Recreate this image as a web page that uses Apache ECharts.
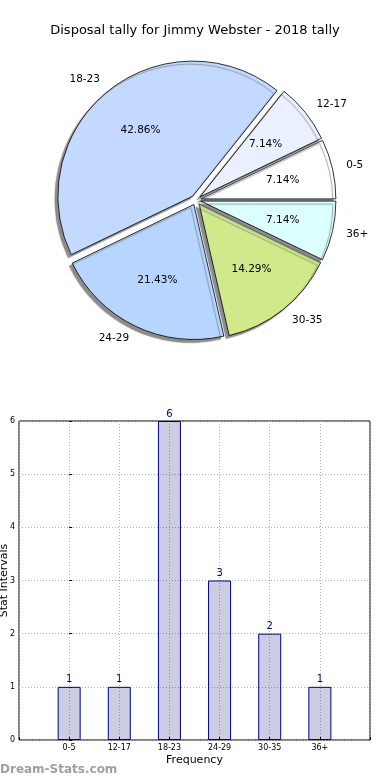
<!DOCTYPE html>
<html>
<head>
<meta charset="utf-8">
<script src="https://cdn.jsdelivr.net/npm/echarts@6/dist/echarts.min.js"></script>
<style>
html,body{margin:0;padding:0;background:#fff;}
#c{width:390px;height:780px;}
</style>
</head>
<body>
<div id="c"></div>
<script>
const titleText = 'Disposal tally for Jimmy Webster - 2018 tally';
const categories = ['0-5', '12-17', '18-23', '24-29', '30-35', '36+'];
const tallies = [1, 1, 6, 3, 2, 1];
const sliceColors = ['#ffffff', '#eaf0ff', '#c4d9ff', '#b6d6ff', '#cfe98b', '#dcffff'];
const yTicks = [0, 1, 2, 3, 4, 5, 6];

const FONT = 'DejaVu Sans';
const R = 135;
const CX = 196, CY = 200;

const chart = echarts.init(document.getElementById('c'), null, {renderer: 'canvas'});

const pieData = categories.map((c, i) => ({
  name: c, value: tallies[i], selected: true,
  itemStyle: {color: sliceColors[i]}
}));
const pieLabelData = categories.map((c, i) => ({
  name: c, value: tallies[i], selected: true
}));

const option = {
  animation: false,
  title: {
    text: titleText, left: 'center', top: 19,
    textStyle: {fontFamily: FONT, fontSize: 13, fontWeight: 'normal', color: '#000'}
  },
  grid: {left: 19, right: 20, top: 421, bottom: 40, containLabel: false, outerBoundsMode: 'none',
    show: true, borderColor: '#000', borderWidth: 1, backgroundColor: 'transparent'},
  xAxis: {
    type: 'value', min: -1, max: 6, interval: 1,
    name: 'Frequency', nameLocation: 'middle', nameGap: 15, nameMoveOverlap: false,
    nameTextStyle: {fontFamily: FONT, fontSize: 11, color: '#000'},
    axisLine: {show: false},
    axisTick: {show: true, inside: true, length: 3, lineStyle: {color: '#000'}},
    axisLabel: {
      fontFamily: FONT, fontSize: 8, color: '#000', margin: 4,
      showMinLabel: true, showMaxLabel: true,
      formatter: v => (categories[v] !== undefined ? categories[v] : '')
    },
    splitLine: {show: true, lineStyle: {color: '#b0b0b0', type: [1, 2], width: 1}}
  },
  yAxis: {
    type: 'value', min: yTicks[0], max: yTicks[yTicks.length - 1], interval: 1,
    name: 'Stat Intervals', nameLocation: 'middle', nameGap: 9, nameRotate: 90, nameMoveOverlap: false,
    nameTextStyle: {fontFamily: FONT, fontSize: 11, color: '#000'},
    axisLine: {show: false},
    axisTick: {show: true, inside: true, length: 3, lineStyle: {color: '#000'}},
    axisLabel: {fontFamily: FONT, fontSize: 8, color: '#000', margin: 4},
    splitLine: {show: true, lineStyle: {color: '#b0b0b0', type: [1, 2], width: 1}}
  },
  series: [
    {
      type: 'pie', radius: R, center: [CX, CY],
      startAngle: 0, clockwise: false,
      selectedMode: 'multiple', selectedOffset: 5,
      avoidLabelOverlap: false,
      itemStyle: {borderColor: '#000', borderWidth: 0.8, shadowColor: 'rgba(120,120,120,0.85)', shadowBlur: 1, shadowOffsetX: -3, shadowOffsetY: 3},
      label: {show: true, position: 'outside', formatter: '{b}', fontFamily: FONT, fontSize: 10.5, color: '#000', distanceToLabelLine: 0},
      labelLine: {show: false, length: 14, length2: 0},
      emphasis: {disabled: true},
      silent: true,
      data: pieData, z: 2
    },
    {
      type: 'pie', radius: [R * 0.2, R], center: [CX, CY],
      startAngle: 0, clockwise: false,
      selectedMode: 'multiple', selectedOffset: 5,
      avoidLabelOverlap: false,
      itemStyle: {color: 'rgba(0,0,0,0)', borderWidth: 0},
      label: {show: true, position: 'inside', formatter: '{d}%', fontFamily: FONT, fontSize: 10.5, color: '#000'},
      labelLine: {show: false},
      emphasis: {disabled: true},
      silent: true,
      data: pieLabelData, z: 3
    },
    {
      type: 'bar',
      data: tallies.map((v, i) => [i, v]),
      barWidth: 23,
      itemStyle: {color: 'rgba(0,0,110,0.2)', borderColor: '#000080', borderWidth: 1},
      label: {show: true, position: 'top', distance: 2, fontFamily: FONT, fontSize: 10, color: '#000080'},
      emphasis: {disabled: true},
      silent: true
    }
  ],
  graphic: [{
    type: 'text', left: 0, top: 764,
    style: {text: 'Dream-Stats.com', font: 'bold 12px "DejaVu Sans"', fill: '#a0a0a0'}
  }]
};
chart.setOption(option);
</script>
</body>
</html>
